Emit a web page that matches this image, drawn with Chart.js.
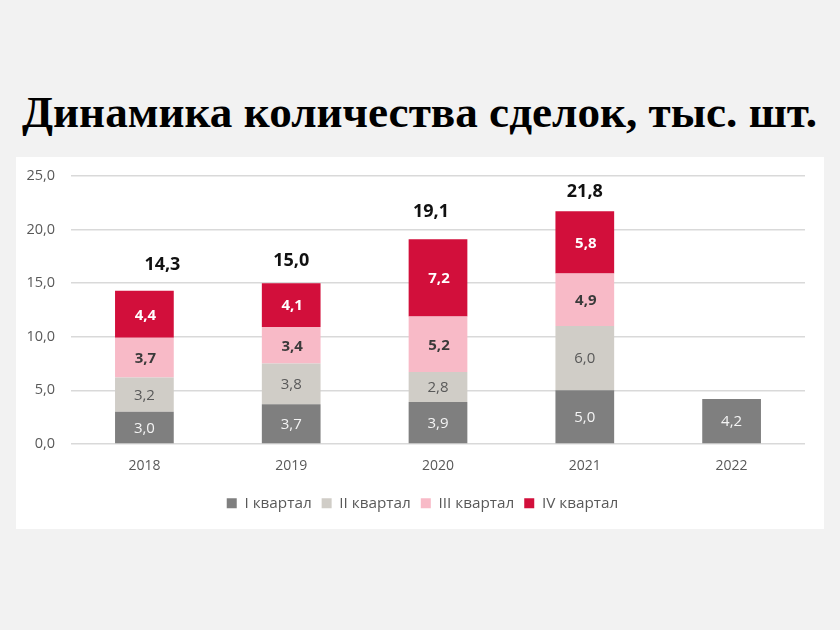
<!DOCTYPE html>
<html>
<head>
<meta charset="utf-8">
<script src="https://cdn.jsdelivr.net/npm/chart.js@4"></script>
<style>
  html, body { margin: 0; padding: 0; background: #f2f2f2; }
  body { width: 840px; height: 630px; position: relative; overflow: hidden; }
  #title {
    position: absolute; left: 22px; top: 84px; margin: 0;
    font-family: "Liberation Serif", "DejaVu Serif", serif; font-weight: bold;
    font-size: 47px; line-height: 56px; color: #000; white-space: nowrap;
  }
  #panel { position: absolute; left: 16px; top: 157px; width: 808px; height: 372px; background: #fff; }
</style>
</head>
<body>
<h1 id="title">Динамика количества сделок, тыс. шт.</h1>
<div id="panel"><canvas id="deals"></canvas></div>
<script>
var years = ['2018', '2019', '2020', '2021', '2022'];
var q1 = [3.0, 3.7, 3.9, 5.0, 4.2];
var q2 = [3.2, 3.8, 2.8, 6.0, null];
var q3 = [3.7, 3.4, 5.2, 4.9, null];
var q4 = [4.4, 4.1, 7.2, 5.8, null];
var totals = [14.3, 15.0, 19.1, 21.8, null];
var seriesNames = ['I квартал', 'II квартал', 'III квартал', 'IV квартал'];

// fit title to width of the reference
(function () {
  var t = document.getElementById('title');
  var w = t.getBoundingClientRect().width;
  t.style.fontSize = (47 * 795 / w).toFixed(2) + 'px';
})();

function fmt(v) { return v.toFixed(1).replace('.', ','); }

var labelStyle = [
  { color: '#f4f4f4', weight: 'normal' },
  { color: '#595959', weight: 'normal' },
  { color: '#3a3a3a', weight: 'bold' },
  { color: '#ffffff', weight: 'bold' }
];

var segmentLabels = {
  id: 'segmentLabels',
  afterLayout: function (chart) {
    // centre the legend on the whole panel, not on the padded area
    chart.legend.left += 12;
    chart.legend.right += 12;
  },
  afterDatasetsDraw: function (chart) {
    var ctx = chart.ctx;
    ctx.save();
    ctx.textAlign = 'center';
    ctx.textBaseline = 'middle';
    chart.data.datasets.forEach(function (ds, i) {
      var meta = chart.getDatasetMeta(i);
      ctx.fillStyle = labelStyle[i].color;
      ctx.font = labelStyle[i].weight + ' 15px "Open Sans", sans-serif';
      meta.data.forEach(function (bar, j) {
        var v = ds.data[j];
        if (v == null) { return; }
        ctx.fillText(fmt(v), bar.x + (i >= 2 ? 1 : 0), (bar.y + bar.base) / 2 + 1);
      });
    });
    // totals above bars
    var y = chart.scales.y;
    var first = chart.getDatasetMeta(0).data;
    ctx.fillStyle = '#111';
    ctx.font = 'bold 18px "Open Sans", sans-serif';
    var gaps = [26, 22, 27, 18];
    totals.forEach(function (t, j) {
      if (t == null) { return; }
      var dx = j === 0 ? 18 : (j === 2 ? -7 : 0);
      ctx.fillText(fmt(t), first[j].x + dx, y.getPixelForValue(t) - gaps[j]);
    });
    ctx.restore();
  }
};

var ctx = document.getElementById('deals');
new Chart(ctx, {
  type: 'bar',
  data: {
    labels: years,
    datasets: [
      { label: seriesNames[0], data: q1, backgroundColor: '#7f7f7f' },
      { label: seriesNames[1], data: q2, backgroundColor: '#d0cdc7' },
      { label: seriesNames[2], data: q3, backgroundColor: '#f8bac7' },
      { label: seriesNames[3], data: q4, backgroundColor: '#d20f3b' }
    ]
  },
  options: {
    responsive: true, maintainAspectRatio: false, animation: false,
    layout: { padding: { left: 0, right: 19, top: 19, bottom: 8 } },
    datasets: { bar: { barPercentage: 0.8, categoryPercentage: 0.5 } },
    scales: {
      x: {
        stacked: true,
        grid: { display: false },
        border: { display: false },
        afterFit: function (scale) { scale.height += 5; },
        ticks: { color: '#595959', font: { family: 'Open Sans', size: 14 }, padding: 6 }
      },
      y: {
        stacked: true, min: 0, max: 25,
        grid: { color: '#d9d9d9', lineWidth: 1.5, drawTicks: false },
        border: { display: false },
        afterFit: function (scale) { scale.width = 55; scale.paddingTop = 0; scale.paddingBottom = 0; },
        ticks: {
          stepSize: 5, color: '#595959', padding: 16,
          font: { family: 'Open Sans', size: 14.5 },
          callback: function (v) { return fmt(v); }
        }
      }
    },
    plugins: {
      tooltip: { enabled: false },
      legend: {
        position: 'bottom',
        labels: {
          boxWidth: 10, boxHeight: 10, padding: 10,
          color: '#595959', font: { family: 'Open Sans', size: 15.3 }
        }
      }
    }
  },
  plugins: [segmentLabels]
});
</script>
</body>
</html>
